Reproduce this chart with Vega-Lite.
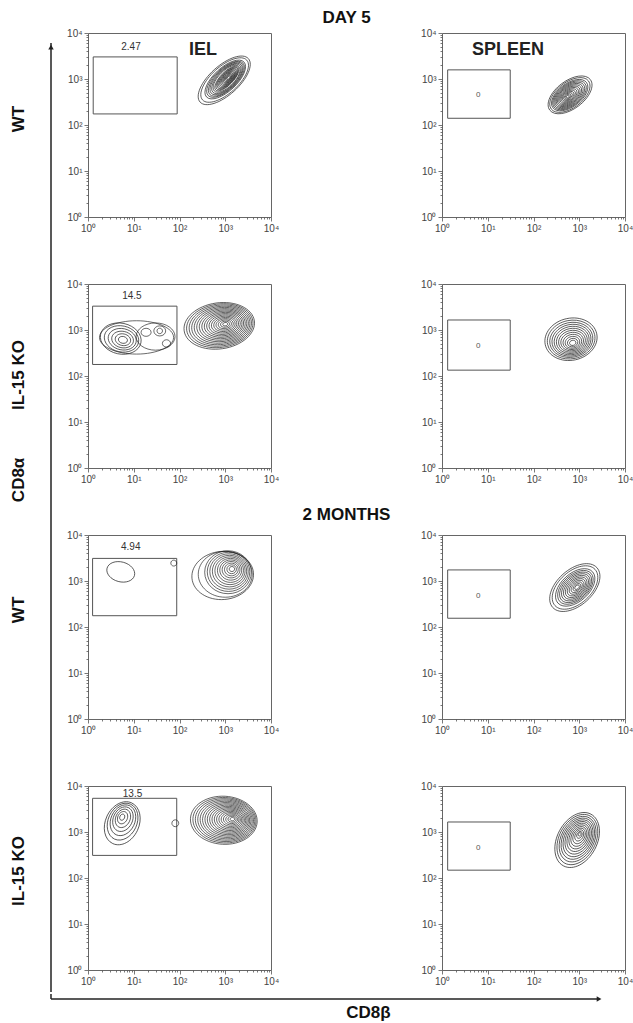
{
"$schema":"https://vega.github.io/schema/vega-lite/v6.json",
"background":"white",
"padding":{"left":10,"top":8,"right":0,"bottom":0},
"config":{"font":"Liberation Sans","view":{"stroke":"#666","strokeWidth":1},
"axis":{"domain":false,"grid":false,"tickColor":"#555","tickWidth":0.8,"labelFontSize":10,"labelColor":"#444","labelFont":"Liberation Sans","labelPadding":2,"labelOverlap":false,"labelFlush":false,"labelBound":false},
"title":{"font":"Liberation Sans","fontSize":17,"fontWeight":"bold","color":"#111","anchor":"middle"}},
"datasets":{
"gates":[
{"p":"p1","x":1.3,"x2":89,"y":174,"y2":3020},
{"p":"p2","x":1.33,"x2":31,"y":140,"y2":1580},
{"p":"p3","x":1.26,"x2":88,"y":178,"y2":3300},
{"p":"p4","x":1.33,"x2":31,"y":134,"y2":1650},
{"p":"p5","x":1.26,"x2":87,"y":176,"y2":3100},
{"p":"p6","x":1.33,"x2":31,"y":155,"y2":1740},
{"p":"p7","x":1.26,"x2":87,"y":310,"y2":5400},
{"p":"p8","x":1.33,"x2":31,"y":148,"y2":1650}],
"labels":[
{"p":"p1","k":"pct","x":8.7,"y":5020,"t":"2.47"},
{"p":"p3","k":"pct","x":9.1,"y":5600,"t":"14.5"},
{"p":"p5","k":"pct","x":8.6,"y":5400,"t":"4.94"},
{"p":"p7","k":"pct","x":9.4,"y":6600,"t":"13.5"},
{"p":"p2","k":"zero","x":6.2,"y":447,"t":"0"},
{"p":"p4","k":"zero","x":6.2,"y":440,"t":"0"},
{"p":"p6","k":"zero","x":6.2,"y":480,"t":"0"},
{"p":"p8","k":"zero","x":6.2,"y":455,"t":"0"},
{"p":"p1","k":"tissue","x":325,"y":4270,"t":"IEL"},
{"p":"p2","k":"tissue","x":27.7,"y":4270,"t":"SPLEEN"}],
"rings":[
{"p":"p1","x":950,"y":935,"len":1.42,"r":"0.45","a":42},
{"p":"p1","x":970,"y":950,"len":1.3,"r":"0.45","a":42},
{"p":"p1","x":1000,"y":975,"len":1.12,"r":"0.45","a":43},
{"p":"p1","x":1015,"y":985,"len":1.04,"r":"0.45","a":43},
{"p":"p1","x":1030,"y":993,"len":0.97,"r":"0.45","a":44},
{"p":"p1","x":1045,"y":1000,"len":0.9,"r":"0.45","a":44},
{"p":"p1","x":1058,"y":1008,"len":0.83,"r":"0.45","a":45},
{"p":"p1","x":1070,"y":1015,"len":0.76,"r":"0.45","a":45},
{"p":"p1","x":1082,"y":1022,"len":0.7,"r":"0.4","a":46},
{"p":"p1","x":1094,"y":1028,"len":0.64,"r":"0.4","a":46},
{"p":"p1","x":1106,"y":1034,"len":0.58,"r":"0.4","a":46},
{"p":"p1","x":1118,"y":1040,"len":0.52,"r":"0.4","a":47},
{"p":"p1","x":1128,"y":1045,"len":0.46,"r":"0.4","a":47},
{"p":"p1","x":1138,"y":1049,"len":0.4,"r":"0.4","a":47},
{"p":"p1","x":1148,"y":1053,"len":0.34,"r":"0.4","a":48},
{"p":"p1","x":1158,"y":1057,"len":0.28,"r":"0.4","a":48},
{"p":"p1","x":1166,"y":1060,"len":0.22,"r":"0.4","a":48},
{"p":"p1","x":1174,"y":1063,"len":0.16,"r":"0.4","a":48},
{"p":"p1","x":1180,"y":1065,"len":0.1,"r":"0.4","a":48},
{"p":"p2","x":630,"y":452,"len":1.11,"r":"0.55","a":37},
{"p":"p2","x":624,"y":449,"len":1.02,"r":"0.55","a":37},
{"p":"p2","x":618,"y":446,"len":0.92,"r":"0.55","a":37},
{"p":"p2","x":612,"y":443,"len":0.85,"r":"0.55","a":37},
{"p":"p2","x":606,"y":440,"len":0.78,"r":"0.55","a":37},
{"p":"p2","x":600,"y":437,"len":0.71,"r":"0.55","a":37},
{"p":"p2","x":595,"y":434,"len":0.64,"r":"0.55","a":37},
{"p":"p2","x":590,"y":431,"len":0.57,"r":"0.55","a":37},
{"p":"p2","x":585,"y":428,"len":0.5,"r":"0.55","a":37},
{"p":"p2","x":580,"y":425,"len":0.43,"r":"0.55","a":37},
{"p":"p2","x":575,"y":422,"len":0.36,"r":"0.55","a":37},
{"p":"p2","x":571,"y":420,"len":0.29,"r":"0.55","a":37},
{"p":"p2","x":567,"y":418,"len":0.22,"r":"0.55","a":37},
{"p":"p2","x":563,"y":416,"len":0.15,"r":"0.55","a":37},
{"p":"p2","x":560,"y":415,"len":0.08,"r":"0.55","a":37},
{"p":"p3","x":5.2,"y":650,"len":0.9,"r":"0.75","a":-12},
{"p":"p3","x":5.4,"y":640,"len":0.76,"r":"0.75","a":-12},
{"p":"p3","x":5.6,"y":630,"len":0.62,"r":"0.75","a":-12},
{"p":"p3","x":5.7,"y":620,"len":0.48,"r":"0.75","a":-12},
{"p":"p3","x":5.8,"y":615,"len":0.34,"r":"0.75","a":-12},
{"p":"p3","x":5.8,"y":610,"len":0.2,"r":"0.75","a":-12},
{"p":"p3","x":11.5,"y":690,"len":1.62,"r":"0.45","a":0},
{"p":"p3","x":30,"y":720,"len":0.85,"r":"0.7","a":0},
{"p":"p3","x":18.6,"y":890,"len":0.22,"r":"0.8","a":0},
{"p":"p3","x":37,"y":955,"len":0.26,"r":"0.85","a":0},
{"p":"p3","x":37,"y":955,"len":0.12,"r":"1","a":0},
{"p":"p3","x":52,"y":510,"len":0.18,"r":"0.9","a":0},
{"p":"p3","x":740,"y":1230,"len":1.55,"r":"0.65","a":8},
{"p":"p3","x":760,"y":1240,"len":1.46,"r":"0.65","a":8},
{"p":"p3","x":780,"y":1248,"len":1.37,"r":"0.65","a":8},
{"p":"p3","x":800,"y":1256,"len":1.28,"r":"0.65","a":8},
{"p":"p3","x":820,"y":1264,"len":1.19,"r":"0.65","a":8},
{"p":"p3","x":840,"y":1272,"len":1.1,"r":"0.65","a":8},
{"p":"p3","x":860,"y":1280,"len":1.01,"r":"0.65","a":8},
{"p":"p3","x":880,"y":1288,"len":0.92,"r":"0.65","a":8},
{"p":"p3","x":900,"y":1295,"len":0.83,"r":"0.65","a":8},
{"p":"p3","x":915,"y":1302,"len":0.74,"r":"0.65","a":8},
{"p":"p3","x":930,"y":1308,"len":0.65,"r":"0.65","a":8},
{"p":"p3","x":945,"y":1314,"len":0.56,"r":"0.65","a":8},
{"p":"p3","x":960,"y":1320,"len":0.47,"r":"0.65","a":8},
{"p":"p3","x":970,"y":1326,"len":0.38,"r":"0.65","a":8},
{"p":"p3","x":980,"y":1331,"len":0.29,"r":"0.65","a":8},
{"p":"p3","x":990,"y":1336,"len":0.2,"r":"0.65","a":8},
{"p":"p3","x":1000,"y":1340,"len":0.11,"r":"0.65","a":8},
{"p":"p4","x":660,"y":630,"len":1.15,"r":"0.8","a":12},
{"p":"p4","x":665,"y":620,"len":1.05,"r":"0.8","a":12},
{"p":"p4","x":670,"y":610,"len":0.95,"r":"0.8","a":12},
{"p":"p4","x":676,"y":600,"len":0.86,"r":"0.8","a":12},
{"p":"p4","x":682,"y":590,"len":0.77,"r":"0.8","a":12},
{"p":"p4","x":688,"y":580,"len":0.68,"r":"0.8","a":12},
{"p":"p4","x":694,"y":570,"len":0.59,"r":"0.8","a":12},
{"p":"p4","x":700,"y":560,"len":0.5,"r":"0.8","a":12},
{"p":"p4","x":706,"y":550,"len":0.41,"r":"0.8","a":12},
{"p":"p4","x":711,"y":540,"len":0.32,"r":"0.8","a":12},
{"p":"p4","x":716,"y":532,"len":0.23,"r":"0.8","a":12},
{"p":"p4","x":720,"y":525,"len":0.14,"r":"0.8","a":12},
{"p":"p5","x":5.2,"y":1580,"len":0.62,"r":"0.7","a":-15},
{"p":"p5","x":75,"y":2450,"len":0.13,"r":"1","a":0},
{"p":"p5","x":880,"y":1320,"len":1.35,"r":"0.78","a":5},
{"p":"p5","x":1000,"y":1400,"len":1.18,"r":"0.85","a":0},
{"p":"p5","x":1150,"y":1550,"len":1.02,"r":"0.92","a":0},
{"p":"p5","x":1180,"y":1580,"len":0.93,"r":"0.92","a":0},
{"p":"p5","x":1210,"y":1610,"len":0.84,"r":"0.92","a":0},
{"p":"p5","x":1240,"y":1640,"len":0.75,"r":"0.92","a":0},
{"p":"p5","x":1270,"y":1670,"len":0.66,"r":"0.92","a":0},
{"p":"p5","x":1300,"y":1700,"len":0.57,"r":"0.92","a":0},
{"p":"p5","x":1320,"y":1730,"len":0.48,"r":"0.92","a":0},
{"p":"p5","x":1340,"y":1760,"len":0.39,"r":"0.92","a":0},
{"p":"p5","x":1360,"y":1780,"len":0.3,"r":"0.92","a":0},
{"p":"p5","x":1380,"y":1800,"len":0.21,"r":"0.92","a":0},
{"p":"p5","x":1400,"y":1820,"len":0.12,"r":"0.92","a":0},
{"p":"p6","x":800,"y":720,"len":1.3,"r":"0.6","a":42},
{"p":"p6","x":808,"y":722,"len":1.18,"r":"0.6","a":42},
{"p":"p6","x":816,"y":725,"len":1.02,"r":"0.6","a":42},
{"p":"p6","x":824,"y":727,"len":0.92,"r":"0.6","a":42},
{"p":"p6","x":832,"y":728,"len":0.83,"r":"0.6","a":42},
{"p":"p6","x":840,"y":729,"len":0.74,"r":"0.6","a":42},
{"p":"p6","x":848,"y":730,"len":0.65,"r":"0.6","a":42},
{"p":"p6","x":856,"y":730,"len":0.56,"r":"0.6","a":42},
{"p":"p6","x":864,"y":731,"len":0.47,"r":"0.6","a":42},
{"p":"p6","x":872,"y":731,"len":0.38,"r":"0.6","a":42},
{"p":"p6","x":880,"y":731,"len":0.29,"r":"0.6","a":42},
{"p":"p6","x":888,"y":731,"len":0.2,"r":"0.6","a":42},
{"p":"p6","x":895,"y":732,"len":0.12,"r":"0.6","a":42},
{"p":"p7","x":5.6,"y":1550,"len":0.98,"r":"0.75","a":65},
{"p":"p7","x":5.7,"y":1680,"len":0.84,"r":"0.75","a":65},
{"p":"p7","x":5.8,"y":1800,"len":0.7,"r":"0.75","a":65},
{"p":"p7","x":5.8,"y":1900,"len":0.56,"r":"0.75","a":65},
{"p":"p7","x":5.8,"y":1980,"len":0.42,"r":"0.75","a":65},
{"p":"p7","x":5.7,"y":2050,"len":0.28,"r":"0.75","a":65},
{"p":"p7","x":5.6,"y":2100,"len":0.14,"r":"0.75","a":65},
{"p":"p7","x":81,"y":1550,"len":0.15,"r":"1","a":0},
{"p":"p7","x":930,"y":1800,"len":1.46,"r":"0.72","a":-3},
{"p":"p7","x":960,"y":1805,"len":1.38,"r":"0.72","a":-3},
{"p":"p7","x":990,"y":1810,"len":1.3,"r":"0.72","a":-3},
{"p":"p7","x":1020,"y":1815,"len":1.22,"r":"0.72","a":-3},
{"p":"p7","x":1050,"y":1820,"len":1.14,"r":"0.72","a":-3},
{"p":"p7","x":1080,"y":1825,"len":1.06,"r":"0.72","a":-3},
{"p":"p7","x":1110,"y":1830,"len":0.98,"r":"0.72","a":-3},
{"p":"p7","x":1140,"y":1835,"len":0.9,"r":"0.72","a":-3},
{"p":"p7","x":1170,"y":1840,"len":0.82,"r":"0.72","a":-3},
{"p":"p7","x":1200,"y":1846,"len":0.74,"r":"0.72","a":-3},
{"p":"p7","x":1230,"y":1852,"len":0.66,"r":"0.72","a":-3},
{"p":"p7","x":1260,"y":1858,"len":0.58,"r":"0.72","a":-3},
{"p":"p7","x":1290,"y":1864,"len":0.5,"r":"0.72","a":-3},
{"p":"p7","x":1320,"y":1870,"len":0.42,"r":"0.72","a":-3},
{"p":"p7","x":1350,"y":1878,"len":0.34,"r":"0.72","a":-3},
{"p":"p7","x":1380,"y":1886,"len":0.26,"r":"0.72","a":-3},
{"p":"p7","x":1405,"y":1894,"len":0.18,"r":"0.72","a":-3},
{"p":"p7","x":1430,"y":1900,"len":0.1,"r":"0.72","a":-3},
{"p":"p8","x":900,"y":670,"len":1.28,"r":"0.68","a":62},
{"p":"p8","x":910,"y":685,"len":1.17,"r":"0.68","a":62},
{"p":"p8","x":920,"y":700,"len":1.06,"r":"0.68","a":62},
{"p":"p8","x":930,"y":715,"len":0.96,"r":"0.68","a":62},
{"p":"p8","x":940,"y":730,"len":0.86,"r":"0.68","a":62},
{"p":"p8","x":950,"y":748,"len":0.76,"r":"0.68","a":62},
{"p":"p8","x":960,"y":765,"len":0.66,"r":"0.68","a":62},
{"p":"p8","x":970,"y":783,"len":0.56,"r":"0.68","a":62},
{"p":"p8","x":980,"y":800,"len":0.46,"r":"0.68","a":62},
{"p":"p8","x":990,"y":820,"len":0.36,"r":"0.68","a":62},
{"p":"p8","x":1000,"y":843,"len":0.26,"r":"0.68","a":62},
{"p":"p8","x":1010,"y":866,"len":0.16,"r":"0.68","a":62},
{"p":"p8","x":1020,"y":890,"len":0.08,"r":"0.68","a":62}],
"rowlabels":[
{"x":0.22,"row":0.976,"label":"WT"},
{"x":0.22,"row":1.996,"label":"IL-15 KO"},
{"x":0.22,"row":2.414,"label":"CD8α"},
{"x":0.22,"row":2.932,"label":"WT"},
{"x":0.22,"row":3.972,"label":"IL-15 KO"}],
"yarrow":[{"x":1,"r0":0.673,"r1":4.4542}],
"yhead":[{"x":1,"row":0.69}],
"xarrow":[{"x0":0.0689,"x1":0.99,"v":0.19}],
"xcorner":[{"x":0.0689,"v0":0,"v1":0.19}],
"xhead":[{"x":0.99,"v":0.19}],
"xlabel":[{"x":0.6025,"v":0.73,"label":"CD8β"}]
},
"vconcat":[
{"hconcat":[
{"width":41,"height":959,"view":{"stroke":null},
"layer":[
{"data":{"name":"yarrow"},"mark":{"type":"rule","color":"#222","strokeWidth":1.5},"encoding":{"x":{"field":"x","type":"quantitative","scale":{"domain":[0,1],"nice":false},"axis":null},"y":{"field":"r0","type":"quantitative","scale":{"domain":[0.6335,4.4542],"reverse":true,"nice":false},"axis":null},"y2":{"field":"r1"}}},
{"data":{"name":"yhead"},"mark":{"type":"point","shape":"triangle-up","filled":true,"color":"#222","size":30,"opacity":1},"encoding":{"x":{"field":"x","type":"quantitative"},"y":{"field":"row","type":"quantitative"}}},
{"data":{"name":"rowlabels"},"mark":{"type":"text","angle":270,"fontSize":17,"fontWeight":"bold","color":"#111"},"encoding":{"x":{"field":"x","type":"quantitative"},"y":{"field":"row","type":"quantitative"},"text":{"field":"label"}}}
]},
{"concat":[
{"width":183,"height":184,"title":{"text":"DAY 5","dx":167,"offset":1},
"encoding":{"x":{"field":"x","type":"quantitative","scale":{"type":"log","domain":[1,10000],"nice":false},"axis":{"values":[1,2,3,4,5,6,7,8,9,10,20,30,40,50,60,70,80,90,100,200,300,400,500,600,700,800,900,1000,2000,3000,4000,5000,6000,7000,8000,9000,10000],"labelExpr":"datum.value==1?'10⁰':datum.value==10?'10¹':datum.value==100?'10²':datum.value==1000?'10³':datum.value==10000?'10⁴':''","tickSize":{"condition":{"test":"datum.value==1||datum.value==10||datum.value==100||datum.value==1000||datum.value==10000","value":4},"value":2},"title":null}},"y":{"field":"y","type":"quantitative","scale":{"type":"log","domain":[1,10000],"nice":false},"axis":{"values":[1,2,3,4,5,6,7,8,9,10,20,30,40,50,60,70,80,90,100,200,300,400,500,600,700,800,900,1000,2000,3000,4000,5000,6000,7000,8000,9000,10000],"labelExpr":"datum.value==1?'10⁰':datum.value==10?'10¹':datum.value==100?'10²':datum.value==1000?'10³':datum.value==10000?'10⁴':''","tickSize":{"condition":{"test":"datum.value==1||datum.value==10||datum.value==100||datum.value==1000||datum.value==10000","value":4},"value":2},"title":null}}},
"layer":[
{"data":{"name":"gates"},"transform":[{"filter":"datum.p=='p1'"}],"mark":{"type":"rect","filled":false,"color":"#555","strokeWidth":1},"encoding":{"x2":{"field":"x2"},"y2":{"field":"y2"}}},
{"data":{"name":"rings"},"transform":[{"filter":"datum.p=='p1'"}],"mark":{"type":"point","filled":false,"color":"#1a1a1a","strokeWidth":0.65,"opacity":1},"encoding":{"size":{"field":"len","type":"quantitative","scale":{"type":"pow","exponent":2,"domain":[0,1],"range":[0,2093]},"legend":null},"shape":{"field":"r","type":"nominal","scale":{"domain":["0.4","0.45","0.55","0.6","0.65","0.68","0.7","0.72","0.75","0.78","0.8","0.85","0.9","0.92","1"],"range":["M-1,0A1,0.4 0 1,1 1,0A1,0.4 0 1,1 -1,0Z","M-1,0A1,0.45 0 1,1 1,0A1,0.45 0 1,1 -1,0Z","M-1,0A1,0.55 0 1,1 1,0A1,0.55 0 1,1 -1,0Z","M-1,0A1,0.6 0 1,1 1,0A1,0.6 0 1,1 -1,0Z","M-1,0A1,0.65 0 1,1 1,0A1,0.65 0 1,1 -1,0Z","M-1,0A1,0.68 0 1,1 1,0A1,0.68 0 1,1 -1,0Z","M-1,0A1,0.7 0 1,1 1,0A1,0.7 0 1,1 -1,0Z","M-1,0A1,0.72 0 1,1 1,0A1,0.72 0 1,1 -1,0Z","M-1,0A1,0.75 0 1,1 1,0A1,0.75 0 1,1 -1,0Z","M-1,0A1,0.78 0 1,1 1,0A1,0.78 0 1,1 -1,0Z","M-1,0A1,0.8 0 1,1 1,0A1,0.8 0 1,1 -1,0Z","M-1,0A1,0.85 0 1,1 1,0A1,0.85 0 1,1 -1,0Z","M-1,0A1,0.9 0 1,1 1,0A1,0.9 0 1,1 -1,0Z","M-1,0A1,0.92 0 1,1 1,0A1,0.92 0 1,1 -1,0Z","M-1,0A1,1 0 1,1 1,0A1,1 0 1,1 -1,0Z"]},"legend":null},"angle":{"field":"a","type":"quantitative","scale":{"domain":[-90,90],"range":[90,-90]},"legend":null}}},
{"data":{"name":"labels"},"transform":[{"filter":"datum.p=='p1'&&datum.k=='pct'"}],"mark":{"type":"text","fontSize":10,"color":"#333"},"encoding":{"text":{"field":"t"}}},
{"data":{"name":"labels"},"transform":[{"filter":"datum.p=='p1'&&datum.k=='tissue'"}],"mark":{"type":"text","fontSize":18,"fontWeight":"bold","color":"#222"},"encoding":{"text":{"field":"t"}}}
]},
{"width":183,"height":184,
"encoding":{"x":{"field":"x","type":"quantitative","scale":{"type":"log","domain":[1,10000],"nice":false},"axis":{"values":[1,2,3,4,5,6,7,8,9,10,20,30,40,50,60,70,80,90,100,200,300,400,500,600,700,800,900,1000,2000,3000,4000,5000,6000,7000,8000,9000,10000],"labelExpr":"datum.value==1?'10⁰':datum.value==10?'10¹':datum.value==100?'10²':datum.value==1000?'10³':datum.value==10000?'10⁴':''","tickSize":{"condition":{"test":"datum.value==1||datum.value==10||datum.value==100||datum.value==1000||datum.value==10000","value":4},"value":2},"title":null}},"y":{"field":"y","type":"quantitative","scale":{"type":"log","domain":[1,10000],"nice":false},"axis":{"values":[1,2,3,4,5,6,7,8,9,10,20,30,40,50,60,70,80,90,100,200,300,400,500,600,700,800,900,1000,2000,3000,4000,5000,6000,7000,8000,9000,10000],"labelExpr":"datum.value==1?'10⁰':datum.value==10?'10¹':datum.value==100?'10²':datum.value==1000?'10³':datum.value==10000?'10⁴':''","tickSize":{"condition":{"test":"datum.value==1||datum.value==10||datum.value==100||datum.value==1000||datum.value==10000","value":4},"value":2},"title":null}}},
"layer":[
{"data":{"name":"gates"},"transform":[{"filter":"datum.p=='p2'"}],"mark":{"type":"rect","filled":false,"color":"#555","strokeWidth":1},"encoding":{"x2":{"field":"x2"},"y2":{"field":"y2"}}},
{"data":{"name":"rings"},"transform":[{"filter":"datum.p=='p2'"}],"mark":{"type":"point","filled":false,"color":"#1a1a1a","strokeWidth":0.65,"opacity":1},"encoding":{"size":{"field":"len","type":"quantitative","scale":{"type":"pow","exponent":2,"domain":[0,1],"range":[0,2093]},"legend":null},"shape":{"field":"r","type":"nominal","scale":{"domain":["0.4","0.45","0.55","0.6","0.65","0.68","0.7","0.72","0.75","0.78","0.8","0.85","0.9","0.92","1"],"range":["M-1,0A1,0.4 0 1,1 1,0A1,0.4 0 1,1 -1,0Z","M-1,0A1,0.45 0 1,1 1,0A1,0.45 0 1,1 -1,0Z","M-1,0A1,0.55 0 1,1 1,0A1,0.55 0 1,1 -1,0Z","M-1,0A1,0.6 0 1,1 1,0A1,0.6 0 1,1 -1,0Z","M-1,0A1,0.65 0 1,1 1,0A1,0.65 0 1,1 -1,0Z","M-1,0A1,0.68 0 1,1 1,0A1,0.68 0 1,1 -1,0Z","M-1,0A1,0.7 0 1,1 1,0A1,0.7 0 1,1 -1,0Z","M-1,0A1,0.72 0 1,1 1,0A1,0.72 0 1,1 -1,0Z","M-1,0A1,0.75 0 1,1 1,0A1,0.75 0 1,1 -1,0Z","M-1,0A1,0.78 0 1,1 1,0A1,0.78 0 1,1 -1,0Z","M-1,0A1,0.8 0 1,1 1,0A1,0.8 0 1,1 -1,0Z","M-1,0A1,0.85 0 1,1 1,0A1,0.85 0 1,1 -1,0Z","M-1,0A1,0.9 0 1,1 1,0A1,0.9 0 1,1 -1,0Z","M-1,0A1,0.92 0 1,1 1,0A1,0.92 0 1,1 -1,0Z","M-1,0A1,1 0 1,1 1,0A1,1 0 1,1 -1,0Z"]},"legend":null},"angle":{"field":"a","type":"quantitative","scale":{"domain":[-90,90],"range":[90,-90]},"legend":null}}},
{"data":{"name":"labels"},"transform":[{"filter":"datum.p=='p2'&&datum.k=='zero'"}],"mark":{"type":"text","fontSize":8,"color":"#555"},"encoding":{"text":{"field":"t"}}},
{"data":{"name":"labels"},"transform":[{"filter":"datum.p=='p2'&&datum.k=='tissue'"}],"mark":{"type":"text","fontSize":18,"fontWeight":"bold","color":"#222"},"encoding":{"text":{"field":"t"}}}
]},
{"width":183,"height":184,
"encoding":{"x":{"field":"x","type":"quantitative","scale":{"type":"log","domain":[1,10000],"nice":false},"axis":{"values":[1,2,3,4,5,6,7,8,9,10,20,30,40,50,60,70,80,90,100,200,300,400,500,600,700,800,900,1000,2000,3000,4000,5000,6000,7000,8000,9000,10000],"labelExpr":"datum.value==1?'10⁰':datum.value==10?'10¹':datum.value==100?'10²':datum.value==1000?'10³':datum.value==10000?'10⁴':''","tickSize":{"condition":{"test":"datum.value==1||datum.value==10||datum.value==100||datum.value==1000||datum.value==10000","value":4},"value":2},"title":null}},"y":{"field":"y","type":"quantitative","scale":{"type":"log","domain":[1,10000],"nice":false},"axis":{"values":[1,2,3,4,5,6,7,8,9,10,20,30,40,50,60,70,80,90,100,200,300,400,500,600,700,800,900,1000,2000,3000,4000,5000,6000,7000,8000,9000,10000],"labelExpr":"datum.value==1?'10⁰':datum.value==10?'10¹':datum.value==100?'10²':datum.value==1000?'10³':datum.value==10000?'10⁴':''","tickSize":{"condition":{"test":"datum.value==1||datum.value==10||datum.value==100||datum.value==1000||datum.value==10000","value":4},"value":2},"title":null}}},
"layer":[
{"data":{"name":"gates"},"transform":[{"filter":"datum.p=='p3'"}],"mark":{"type":"rect","filled":false,"color":"#555","strokeWidth":1},"encoding":{"x2":{"field":"x2"},"y2":{"field":"y2"}}},
{"data":{"name":"rings"},"transform":[{"filter":"datum.p=='p3'"}],"mark":{"type":"point","filled":false,"color":"#1a1a1a","strokeWidth":0.65,"opacity":1},"encoding":{"size":{"field":"len","type":"quantitative","scale":{"type":"pow","exponent":2,"domain":[0,1],"range":[0,2093]},"legend":null},"shape":{"field":"r","type":"nominal","scale":{"domain":["0.4","0.45","0.55","0.6","0.65","0.68","0.7","0.72","0.75","0.78","0.8","0.85","0.9","0.92","1"],"range":["M-1,0A1,0.4 0 1,1 1,0A1,0.4 0 1,1 -1,0Z","M-1,0A1,0.45 0 1,1 1,0A1,0.45 0 1,1 -1,0Z","M-1,0A1,0.55 0 1,1 1,0A1,0.55 0 1,1 -1,0Z","M-1,0A1,0.6 0 1,1 1,0A1,0.6 0 1,1 -1,0Z","M-1,0A1,0.65 0 1,1 1,0A1,0.65 0 1,1 -1,0Z","M-1,0A1,0.68 0 1,1 1,0A1,0.68 0 1,1 -1,0Z","M-1,0A1,0.7 0 1,1 1,0A1,0.7 0 1,1 -1,0Z","M-1,0A1,0.72 0 1,1 1,0A1,0.72 0 1,1 -1,0Z","M-1,0A1,0.75 0 1,1 1,0A1,0.75 0 1,1 -1,0Z","M-1,0A1,0.78 0 1,1 1,0A1,0.78 0 1,1 -1,0Z","M-1,0A1,0.8 0 1,1 1,0A1,0.8 0 1,1 -1,0Z","M-1,0A1,0.85 0 1,1 1,0A1,0.85 0 1,1 -1,0Z","M-1,0A1,0.9 0 1,1 1,0A1,0.9 0 1,1 -1,0Z","M-1,0A1,0.92 0 1,1 1,0A1,0.92 0 1,1 -1,0Z","M-1,0A1,1 0 1,1 1,0A1,1 0 1,1 -1,0Z"]},"legend":null},"angle":{"field":"a","type":"quantitative","scale":{"domain":[-90,90],"range":[90,-90]},"legend":null}}},
{"data":{"name":"labels"},"transform":[{"filter":"datum.p=='p3'&&datum.k=='pct'"}],"mark":{"type":"text","fontSize":10,"color":"#333"},"encoding":{"text":{"field":"t"}}}
]},
{"width":183,"height":184,
"encoding":{"x":{"field":"x","type":"quantitative","scale":{"type":"log","domain":[1,10000],"nice":false},"axis":{"values":[1,2,3,4,5,6,7,8,9,10,20,30,40,50,60,70,80,90,100,200,300,400,500,600,700,800,900,1000,2000,3000,4000,5000,6000,7000,8000,9000,10000],"labelExpr":"datum.value==1?'10⁰':datum.value==10?'10¹':datum.value==100?'10²':datum.value==1000?'10³':datum.value==10000?'10⁴':''","tickSize":{"condition":{"test":"datum.value==1||datum.value==10||datum.value==100||datum.value==1000||datum.value==10000","value":4},"value":2},"title":null}},"y":{"field":"y","type":"quantitative","scale":{"type":"log","domain":[1,10000],"nice":false},"axis":{"values":[1,2,3,4,5,6,7,8,9,10,20,30,40,50,60,70,80,90,100,200,300,400,500,600,700,800,900,1000,2000,3000,4000,5000,6000,7000,8000,9000,10000],"labelExpr":"datum.value==1?'10⁰':datum.value==10?'10¹':datum.value==100?'10²':datum.value==1000?'10³':datum.value==10000?'10⁴':''","tickSize":{"condition":{"test":"datum.value==1||datum.value==10||datum.value==100||datum.value==1000||datum.value==10000","value":4},"value":2},"title":null}}},
"layer":[
{"data":{"name":"gates"},"transform":[{"filter":"datum.p=='p4'"}],"mark":{"type":"rect","filled":false,"color":"#555","strokeWidth":1},"encoding":{"x2":{"field":"x2"},"y2":{"field":"y2"}}},
{"data":{"name":"rings"},"transform":[{"filter":"datum.p=='p4'"}],"mark":{"type":"point","filled":false,"color":"#1a1a1a","strokeWidth":0.65,"opacity":1},"encoding":{"size":{"field":"len","type":"quantitative","scale":{"type":"pow","exponent":2,"domain":[0,1],"range":[0,2093]},"legend":null},"shape":{"field":"r","type":"nominal","scale":{"domain":["0.4","0.45","0.55","0.6","0.65","0.68","0.7","0.72","0.75","0.78","0.8","0.85","0.9","0.92","1"],"range":["M-1,0A1,0.4 0 1,1 1,0A1,0.4 0 1,1 -1,0Z","M-1,0A1,0.45 0 1,1 1,0A1,0.45 0 1,1 -1,0Z","M-1,0A1,0.55 0 1,1 1,0A1,0.55 0 1,1 -1,0Z","M-1,0A1,0.6 0 1,1 1,0A1,0.6 0 1,1 -1,0Z","M-1,0A1,0.65 0 1,1 1,0A1,0.65 0 1,1 -1,0Z","M-1,0A1,0.68 0 1,1 1,0A1,0.68 0 1,1 -1,0Z","M-1,0A1,0.7 0 1,1 1,0A1,0.7 0 1,1 -1,0Z","M-1,0A1,0.72 0 1,1 1,0A1,0.72 0 1,1 -1,0Z","M-1,0A1,0.75 0 1,1 1,0A1,0.75 0 1,1 -1,0Z","M-1,0A1,0.78 0 1,1 1,0A1,0.78 0 1,1 -1,0Z","M-1,0A1,0.8 0 1,1 1,0A1,0.8 0 1,1 -1,0Z","M-1,0A1,0.85 0 1,1 1,0A1,0.85 0 1,1 -1,0Z","M-1,0A1,0.9 0 1,1 1,0A1,0.9 0 1,1 -1,0Z","M-1,0A1,0.92 0 1,1 1,0A1,0.92 0 1,1 -1,0Z","M-1,0A1,1 0 1,1 1,0A1,1 0 1,1 -1,0Z"]},"legend":null},"angle":{"field":"a","type":"quantitative","scale":{"domain":[-90,90],"range":[90,-90]},"legend":null}}},
{"data":{"name":"labels"},"transform":[{"filter":"datum.p=='p4'&&datum.k=='zero'"}],"mark":{"type":"text","fontSize":8,"color":"#555"},"encoding":{"text":{"field":"t"}}}
]},
{"width":183,"height":184,"title":{"text":"2 MONTHS","dx":167,"offset":6},
"encoding":{"x":{"field":"x","type":"quantitative","scale":{"type":"log","domain":[1,10000],"nice":false},"axis":{"values":[1,2,3,4,5,6,7,8,9,10,20,30,40,50,60,70,80,90,100,200,300,400,500,600,700,800,900,1000,2000,3000,4000,5000,6000,7000,8000,9000,10000],"labelExpr":"datum.value==1?'10⁰':datum.value==10?'10¹':datum.value==100?'10²':datum.value==1000?'10³':datum.value==10000?'10⁴':''","tickSize":{"condition":{"test":"datum.value==1||datum.value==10||datum.value==100||datum.value==1000||datum.value==10000","value":4},"value":2},"title":null}},"y":{"field":"y","type":"quantitative","scale":{"type":"log","domain":[1,10000],"nice":false},"axis":{"values":[1,2,3,4,5,6,7,8,9,10,20,30,40,50,60,70,80,90,100,200,300,400,500,600,700,800,900,1000,2000,3000,4000,5000,6000,7000,8000,9000,10000],"labelExpr":"datum.value==1?'10⁰':datum.value==10?'10¹':datum.value==100?'10²':datum.value==1000?'10³':datum.value==10000?'10⁴':''","tickSize":{"condition":{"test":"datum.value==1||datum.value==10||datum.value==100||datum.value==1000||datum.value==10000","value":4},"value":2},"title":null}}},
"layer":[
{"data":{"name":"gates"},"transform":[{"filter":"datum.p=='p5'"}],"mark":{"type":"rect","filled":false,"color":"#555","strokeWidth":1},"encoding":{"x2":{"field":"x2"},"y2":{"field":"y2"}}},
{"data":{"name":"rings"},"transform":[{"filter":"datum.p=='p5'"}],"mark":{"type":"point","filled":false,"color":"#1a1a1a","strokeWidth":0.65,"opacity":1},"encoding":{"size":{"field":"len","type":"quantitative","scale":{"type":"pow","exponent":2,"domain":[0,1],"range":[0,2093]},"legend":null},"shape":{"field":"r","type":"nominal","scale":{"domain":["0.4","0.45","0.55","0.6","0.65","0.68","0.7","0.72","0.75","0.78","0.8","0.85","0.9","0.92","1"],"range":["M-1,0A1,0.4 0 1,1 1,0A1,0.4 0 1,1 -1,0Z","M-1,0A1,0.45 0 1,1 1,0A1,0.45 0 1,1 -1,0Z","M-1,0A1,0.55 0 1,1 1,0A1,0.55 0 1,1 -1,0Z","M-1,0A1,0.6 0 1,1 1,0A1,0.6 0 1,1 -1,0Z","M-1,0A1,0.65 0 1,1 1,0A1,0.65 0 1,1 -1,0Z","M-1,0A1,0.68 0 1,1 1,0A1,0.68 0 1,1 -1,0Z","M-1,0A1,0.7 0 1,1 1,0A1,0.7 0 1,1 -1,0Z","M-1,0A1,0.72 0 1,1 1,0A1,0.72 0 1,1 -1,0Z","M-1,0A1,0.75 0 1,1 1,0A1,0.75 0 1,1 -1,0Z","M-1,0A1,0.78 0 1,1 1,0A1,0.78 0 1,1 -1,0Z","M-1,0A1,0.8 0 1,1 1,0A1,0.8 0 1,1 -1,0Z","M-1,0A1,0.85 0 1,1 1,0A1,0.85 0 1,1 -1,0Z","M-1,0A1,0.9 0 1,1 1,0A1,0.9 0 1,1 -1,0Z","M-1,0A1,0.92 0 1,1 1,0A1,0.92 0 1,1 -1,0Z","M-1,0A1,1 0 1,1 1,0A1,1 0 1,1 -1,0Z"]},"legend":null},"angle":{"field":"a","type":"quantitative","scale":{"domain":[-90,90],"range":[90,-90]},"legend":null}}},
{"data":{"name":"labels"},"transform":[{"filter":"datum.p=='p5'&&datum.k=='pct'"}],"mark":{"type":"text","fontSize":10,"color":"#333"},"encoding":{"text":{"field":"t"}}}
]},
{"width":183,"height":184,
"encoding":{"x":{"field":"x","type":"quantitative","scale":{"type":"log","domain":[1,10000],"nice":false},"axis":{"values":[1,2,3,4,5,6,7,8,9,10,20,30,40,50,60,70,80,90,100,200,300,400,500,600,700,800,900,1000,2000,3000,4000,5000,6000,7000,8000,9000,10000],"labelExpr":"datum.value==1?'10⁰':datum.value==10?'10¹':datum.value==100?'10²':datum.value==1000?'10³':datum.value==10000?'10⁴':''","tickSize":{"condition":{"test":"datum.value==1||datum.value==10||datum.value==100||datum.value==1000||datum.value==10000","value":4},"value":2},"title":null}},"y":{"field":"y","type":"quantitative","scale":{"type":"log","domain":[1,10000],"nice":false},"axis":{"values":[1,2,3,4,5,6,7,8,9,10,20,30,40,50,60,70,80,90,100,200,300,400,500,600,700,800,900,1000,2000,3000,4000,5000,6000,7000,8000,9000,10000],"labelExpr":"datum.value==1?'10⁰':datum.value==10?'10¹':datum.value==100?'10²':datum.value==1000?'10³':datum.value==10000?'10⁴':''","tickSize":{"condition":{"test":"datum.value==1||datum.value==10||datum.value==100||datum.value==1000||datum.value==10000","value":4},"value":2},"title":null}}},
"layer":[
{"data":{"name":"gates"},"transform":[{"filter":"datum.p=='p6'"}],"mark":{"type":"rect","filled":false,"color":"#555","strokeWidth":1},"encoding":{"x2":{"field":"x2"},"y2":{"field":"y2"}}},
{"data":{"name":"rings"},"transform":[{"filter":"datum.p=='p6'"}],"mark":{"type":"point","filled":false,"color":"#1a1a1a","strokeWidth":0.65,"opacity":1},"encoding":{"size":{"field":"len","type":"quantitative","scale":{"type":"pow","exponent":2,"domain":[0,1],"range":[0,2093]},"legend":null},"shape":{"field":"r","type":"nominal","scale":{"domain":["0.4","0.45","0.55","0.6","0.65","0.68","0.7","0.72","0.75","0.78","0.8","0.85","0.9","0.92","1"],"range":["M-1,0A1,0.4 0 1,1 1,0A1,0.4 0 1,1 -1,0Z","M-1,0A1,0.45 0 1,1 1,0A1,0.45 0 1,1 -1,0Z","M-1,0A1,0.55 0 1,1 1,0A1,0.55 0 1,1 -1,0Z","M-1,0A1,0.6 0 1,1 1,0A1,0.6 0 1,1 -1,0Z","M-1,0A1,0.65 0 1,1 1,0A1,0.65 0 1,1 -1,0Z","M-1,0A1,0.68 0 1,1 1,0A1,0.68 0 1,1 -1,0Z","M-1,0A1,0.7 0 1,1 1,0A1,0.7 0 1,1 -1,0Z","M-1,0A1,0.72 0 1,1 1,0A1,0.72 0 1,1 -1,0Z","M-1,0A1,0.75 0 1,1 1,0A1,0.75 0 1,1 -1,0Z","M-1,0A1,0.78 0 1,1 1,0A1,0.78 0 1,1 -1,0Z","M-1,0A1,0.8 0 1,1 1,0A1,0.8 0 1,1 -1,0Z","M-1,0A1,0.85 0 1,1 1,0A1,0.85 0 1,1 -1,0Z","M-1,0A1,0.9 0 1,1 1,0A1,0.9 0 1,1 -1,0Z","M-1,0A1,0.92 0 1,1 1,0A1,0.92 0 1,1 -1,0Z","M-1,0A1,1 0 1,1 1,0A1,1 0 1,1 -1,0Z"]},"legend":null},"angle":{"field":"a","type":"quantitative","scale":{"domain":[-90,90],"range":[90,-90]},"legend":null}}},
{"data":{"name":"labels"},"transform":[{"filter":"datum.p=='p6'&&datum.k=='zero'"}],"mark":{"type":"text","fontSize":8,"color":"#555"},"encoding":{"text":{"field":"t"}}}
]},
{"width":183,"height":184,
"encoding":{"x":{"field":"x","type":"quantitative","scale":{"type":"log","domain":[1,10000],"nice":false},"axis":{"values":[1,2,3,4,5,6,7,8,9,10,20,30,40,50,60,70,80,90,100,200,300,400,500,600,700,800,900,1000,2000,3000,4000,5000,6000,7000,8000,9000,10000],"labelExpr":"datum.value==1?'10⁰':datum.value==10?'10¹':datum.value==100?'10²':datum.value==1000?'10³':datum.value==10000?'10⁴':''","tickSize":{"condition":{"test":"datum.value==1||datum.value==10||datum.value==100||datum.value==1000||datum.value==10000","value":4},"value":2},"title":null}},"y":{"field":"y","type":"quantitative","scale":{"type":"log","domain":[1,10000],"nice":false},"axis":{"values":[1,2,3,4,5,6,7,8,9,10,20,30,40,50,60,70,80,90,100,200,300,400,500,600,700,800,900,1000,2000,3000,4000,5000,6000,7000,8000,9000,10000],"labelExpr":"datum.value==1?'10⁰':datum.value==10?'10¹':datum.value==100?'10²':datum.value==1000?'10³':datum.value==10000?'10⁴':''","tickSize":{"condition":{"test":"datum.value==1||datum.value==10||datum.value==100||datum.value==1000||datum.value==10000","value":4},"value":2},"title":null}}},
"layer":[
{"data":{"name":"gates"},"transform":[{"filter":"datum.p=='p7'"}],"mark":{"type":"rect","filled":false,"color":"#555","strokeWidth":1},"encoding":{"x2":{"field":"x2"},"y2":{"field":"y2"}}},
{"data":{"name":"rings"},"transform":[{"filter":"datum.p=='p7'"}],"mark":{"type":"point","filled":false,"color":"#1a1a1a","strokeWidth":0.65,"opacity":1},"encoding":{"size":{"field":"len","type":"quantitative","scale":{"type":"pow","exponent":2,"domain":[0,1],"range":[0,2093]},"legend":null},"shape":{"field":"r","type":"nominal","scale":{"domain":["0.4","0.45","0.55","0.6","0.65","0.68","0.7","0.72","0.75","0.78","0.8","0.85","0.9","0.92","1"],"range":["M-1,0A1,0.4 0 1,1 1,0A1,0.4 0 1,1 -1,0Z","M-1,0A1,0.45 0 1,1 1,0A1,0.45 0 1,1 -1,0Z","M-1,0A1,0.55 0 1,1 1,0A1,0.55 0 1,1 -1,0Z","M-1,0A1,0.6 0 1,1 1,0A1,0.6 0 1,1 -1,0Z","M-1,0A1,0.65 0 1,1 1,0A1,0.65 0 1,1 -1,0Z","M-1,0A1,0.68 0 1,1 1,0A1,0.68 0 1,1 -1,0Z","M-1,0A1,0.7 0 1,1 1,0A1,0.7 0 1,1 -1,0Z","M-1,0A1,0.72 0 1,1 1,0A1,0.72 0 1,1 -1,0Z","M-1,0A1,0.75 0 1,1 1,0A1,0.75 0 1,1 -1,0Z","M-1,0A1,0.78 0 1,1 1,0A1,0.78 0 1,1 -1,0Z","M-1,0A1,0.8 0 1,1 1,0A1,0.8 0 1,1 -1,0Z","M-1,0A1,0.85 0 1,1 1,0A1,0.85 0 1,1 -1,0Z","M-1,0A1,0.9 0 1,1 1,0A1,0.9 0 1,1 -1,0Z","M-1,0A1,0.92 0 1,1 1,0A1,0.92 0 1,1 -1,0Z","M-1,0A1,1 0 1,1 1,0A1,1 0 1,1 -1,0Z"]},"legend":null},"angle":{"field":"a","type":"quantitative","scale":{"domain":[-90,90],"range":[90,-90]},"legend":null}}},
{"data":{"name":"labels"},"transform":[{"filter":"datum.p=='p7'&&datum.k=='pct'"}],"mark":{"type":"text","fontSize":10,"color":"#333"},"encoding":{"text":{"field":"t"}}}
]},
{"width":183,"height":184,
"encoding":{"x":{"field":"x","type":"quantitative","scale":{"type":"log","domain":[1,10000],"nice":false},"axis":{"values":[1,2,3,4,5,6,7,8,9,10,20,30,40,50,60,70,80,90,100,200,300,400,500,600,700,800,900,1000,2000,3000,4000,5000,6000,7000,8000,9000,10000],"labelExpr":"datum.value==1?'10⁰':datum.value==10?'10¹':datum.value==100?'10²':datum.value==1000?'10³':datum.value==10000?'10⁴':''","tickSize":{"condition":{"test":"datum.value==1||datum.value==10||datum.value==100||datum.value==1000||datum.value==10000","value":4},"value":2},"title":null}},"y":{"field":"y","type":"quantitative","scale":{"type":"log","domain":[1,10000],"nice":false},"axis":{"values":[1,2,3,4,5,6,7,8,9,10,20,30,40,50,60,70,80,90,100,200,300,400,500,600,700,800,900,1000,2000,3000,4000,5000,6000,7000,8000,9000,10000],"labelExpr":"datum.value==1?'10⁰':datum.value==10?'10¹':datum.value==100?'10²':datum.value==1000?'10³':datum.value==10000?'10⁴':''","tickSize":{"condition":{"test":"datum.value==1||datum.value==10||datum.value==100||datum.value==1000||datum.value==10000","value":4},"value":2},"title":null}}},
"layer":[
{"data":{"name":"gates"},"transform":[{"filter":"datum.p=='p8'"}],"mark":{"type":"rect","filled":false,"color":"#555","strokeWidth":1},"encoding":{"x2":{"field":"x2"},"y2":{"field":"y2"}}},
{"data":{"name":"rings"},"transform":[{"filter":"datum.p=='p8'"}],"mark":{"type":"point","filled":false,"color":"#1a1a1a","strokeWidth":0.65,"opacity":1},"encoding":{"size":{"field":"len","type":"quantitative","scale":{"type":"pow","exponent":2,"domain":[0,1],"range":[0,2093]},"legend":null},"shape":{"field":"r","type":"nominal","scale":{"domain":["0.4","0.45","0.55","0.6","0.65","0.68","0.7","0.72","0.75","0.78","0.8","0.85","0.9","0.92","1"],"range":["M-1,0A1,0.4 0 1,1 1,0A1,0.4 0 1,1 -1,0Z","M-1,0A1,0.45 0 1,1 1,0A1,0.45 0 1,1 -1,0Z","M-1,0A1,0.55 0 1,1 1,0A1,0.55 0 1,1 -1,0Z","M-1,0A1,0.6 0 1,1 1,0A1,0.6 0 1,1 -1,0Z","M-1,0A1,0.65 0 1,1 1,0A1,0.65 0 1,1 -1,0Z","M-1,0A1,0.68 0 1,1 1,0A1,0.68 0 1,1 -1,0Z","M-1,0A1,0.7 0 1,1 1,0A1,0.7 0 1,1 -1,0Z","M-1,0A1,0.72 0 1,1 1,0A1,0.72 0 1,1 -1,0Z","M-1,0A1,0.75 0 1,1 1,0A1,0.75 0 1,1 -1,0Z","M-1,0A1,0.78 0 1,1 1,0A1,0.78 0 1,1 -1,0Z","M-1,0A1,0.8 0 1,1 1,0A1,0.8 0 1,1 -1,0Z","M-1,0A1,0.85 0 1,1 1,0A1,0.85 0 1,1 -1,0Z","M-1,0A1,0.9 0 1,1 1,0A1,0.9 0 1,1 -1,0Z","M-1,0A1,0.92 0 1,1 1,0A1,0.92 0 1,1 -1,0Z","M-1,0A1,1 0 1,1 1,0A1,1 0 1,1 -1,0Z"]},"legend":null},"angle":{"field":"a","type":"quantitative","scale":{"domain":[-90,90],"range":[90,-90]},"legend":null}}},
{"data":{"name":"labels"},"transform":[{"filter":"datum.p=='p8'&&datum.k=='zero'"}],"mark":{"type":"text","fontSize":8,"color":"#555"},"encoding":{"text":{"field":"t"}}}
]}
],"columns":2,"bounds":"flush","spacing":{"row":67,"column":171}}
],"spacing":12},
{"width":595,"height":26,"view":{"stroke":null},
"layer":[
{"data":{"name":"xarrow"},"mark":{"type":"rule","color":"#222","strokeWidth":1.5},"encoding":{"x":{"field":"x0","type":"quantitative","scale":{"domain":[0,1],"nice":false},"axis":null},"x2":{"field":"x1"},"y":{"field":"v","type":"quantitative","scale":{"domain":[0,1],"reverse":true,"nice":false},"axis":null}}},
{"data":{"name":"xcorner"},"mark":{"type":"rule","color":"#222","strokeWidth":1.5},"encoding":{"x":{"field":"x","type":"quantitative"},"y":{"field":"v0","type":"quantitative"},"y2":{"field":"v1"}}},
{"data":{"name":"xhead"},"mark":{"type":"point","shape":"triangle-right","filled":true,"color":"#222","size":30,"opacity":1},"encoding":{"x":{"field":"x","type":"quantitative"},"y":{"field":"v","type":"quantitative"}}},
{"data":{"name":"xlabel"},"mark":{"type":"text","fontSize":17,"fontWeight":"bold","color":"#111"},"encoding":{"x":{"field":"x","type":"quantitative"},"y":{"field":"v","type":"quantitative"},"text":{"field":"label"}}}
]}
],"spacing":0}
